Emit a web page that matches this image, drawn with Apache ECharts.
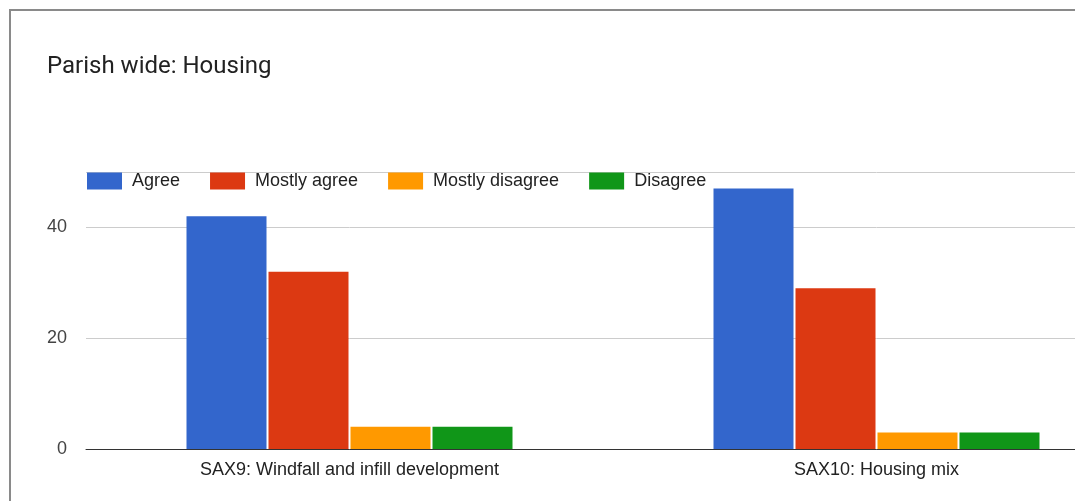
<!DOCTYPE html>
<html>
<head>
<meta charset="utf-8">
<style>
  html, body { margin: 0; padding: 0; background: #fff; overflow: hidden; width: 1075px; height: 501px; }
  #chart { width: 1150px; height: 501px; }
</style>
<script src="https://cdn.jsdelivr.net/npm/echarts@6/dist/echarts.min.js"></script>
</head>
<body>
<div id="chart"></div>
<script>
// Survey responses per policy
const categories = ['SAX9: Windfall and infill development', 'SAX10: Housing mix'];
const seriesNames = ['Agree', 'Mostly agree', 'Mostly disagree', 'Disagree'];
const agree = [42, 47];
const mostlyAgree = [32, 29];
const mostlyDisagree = [4, 3];
const disagree = [4, 3];
const colors = ['#3366cc', '#dc3912', '#ff9900', '#109618'];

const valueSets = [agree, mostlyAgree, mostlyDisagree, disagree];
const baseFont = '"Liberation Sans", Arial, sans-serif';

const chart = echarts.init(document.getElementById('chart'), null, { renderer: 'canvas' });
chart.setOption({
  animation: false,
  color: colors,
  title: {
    text: 'Parish wide: Housing',
    left: 42,
    top: 50,
    textStyle: { fontFamily: 'Roboto, sans-serif', fontSize: 24, fontWeight: 'normal', color: '#222' }
  },
  graphic: [{
    type: 'rect',
    shape: { x: 10, y: 10, width: 1200, height: 600 },
    style: { fill: 'none', stroke: '#8a8a8a', lineWidth: 2 },
    z: 100
  }],
  legend: {
    data: seriesNames,
    left: 82,
    top: 167,
    itemWidth: 35,
    itemHeight: 17,
    itemGap: 30,
    icon: 'rect',
    textStyle: { fontFamily: baseFont, fontSize: 18, color: '#222', padding: [0, 0, 0, 5] }
  },
  grid: { left: 86, width: 1054, top: 172, bottom: 52, containLabel: false, outerBoundsMode: 'none' },
  xAxis: {
    type: 'category',
    data: categories,
    axisTick: { show: false },
    axisLine: { lineStyle: { color: '#333', width: 1 } },
    axisLabel: { fontFamily: baseFont, fontSize: 18, color: '#222', margin: 12 }
  },
  yAxis: {
    type: 'value',
    min: 0,
    max: 50,
    interval: 20,
    axisLabel: { fontFamily: baseFont, fontSize: 18, color: '#444', margin: 19, showMaxLabel: false },
    splitLine: { lineStyle: { color: '#ccc' } },
    axisLine: { show: false },
    axisTick: { show: false }
  },
  series: seriesNames.map((name, i) => ({
    name,
    type: 'bar',
    data: valueSets[i],
    barWidth: 80,
    barGap: '2.5%',
    itemStyle: { color: colors[i] }
  }))
});
</script>
</body>
</html>
